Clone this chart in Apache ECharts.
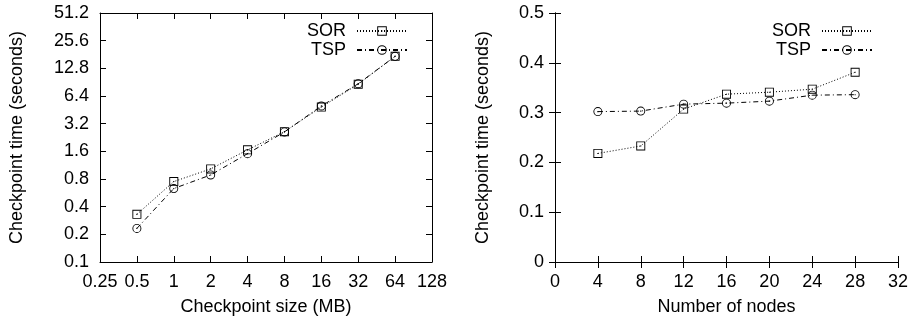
<!DOCTYPE html>
<html><head><meta charset="utf-8">
<script src="https://cdn.jsdelivr.net/npm/echarts@6/dist/echarts.min.js"></script>
<style>html,body{margin:0;padding:0;background:#fff}#c{width:916px;height:321px}</style>
</head><body><div id="c"></div>
<script>
// Left chart: checkpoint size vs time (log2 axes)
const sizeMB = [0.5, 1, 2, 4, 8, 16, 32, 64];
const sorBySize = [0.33, 0.75, 1.03, 1.66, 2.62, 4.85, 8.6, 17.3];
const tspBySize = [0.232, 0.63, 0.885, 1.51, 2.6, 4.98, 8.7, 17.3];
const sizeTicks = ['0.25', '0.5', '1', '2', '4', '8', '16', '32', '64', '128'];
const timeTicksLog = ['0.1', '0.2', '0.4', '0.8', '1.6', '3.2', '6.4', '12.8', '25.6', '51.2'];
// Right chart: number of nodes vs time
const nodes = [4, 8, 12, 16, 20, 24, 28];
const sorByNodes = [0.218, 0.233, 0.307, 0.337, 0.341, 0.347, 0.381];
const tspByNodes = [0.302, 0.303, 0.317, 0.319, 0.323, 0.335, 0.336];
const nodeTicks = ['0', '4', '8', '12', '16', '20', '24', '28', '32'];
const timeTicksLin = ['0', '0.1', '0.2', '0.3', '0.4', '0.5'];

const FONT = 'Liberation Sans';
const FS = 18;
const SQ = 'path://M0,0H10V10H0Z M1,1V9H9V1Z M4.4,4.4H5.6V5.6H4.4Z';
const CI = 'path://M5,0A5,5,0,1,1,5,10A5,5,0,1,1,5,0Z M5,1A4,4,0,1,0,5,9A4,4,0,1,0,5,1Z M4.4,4.4H5.6V5.6H4.4Z';

const lineAx = {show: true, lineStyle: {color: '#000', width: 1}};
const tickAx = {show: true, inside: true, length: 6, lineStyle: {color: '#000', width: 1}};
const lbl = (arr) => ({show: true, color: '#000', fontFamily: FONT, fontSize: FS, margin: 11,
  formatter: (v, i) => arr[i] !== undefined ? arr[i] : ''});
const nameStyle = {color: '#000', fontFamily: FONT, fontSize: FS};

function axes(kind, grid, dir, ticks, name, gap) {
  const main = Object.assign({gridIndex: grid, position: dir === 'x' ? 'bottom' : 'left',
    axisLine: lineAx, axisTick: tickAx, splitLine: {show: false}, axisLabel: lbl(ticks),
    name: name, nameLocation: 'middle', nameGap: gap, nameTextStyle: nameStyle}, kind);
  const mirror = Object.assign({gridIndex: grid, position: dir === 'x' ? 'top' : 'right',
    axisLine: lineAx, axisTick: tickAx, splitLine: {show: false}, axisLabel: {show: false}}, kind);
  return [main, mirror];
}

const logX = {type: 'log', logBase: 2, min: 0.25, max: 128, interval: 1};
const logY = {type: 'log', logBase: 2, min: 0.1, max: 51.2, interval: 1};
const linX = {type: 'value', min: 0, max: 32, interval: 4};
const linY = {type: 'value', min: 0, max: 0.5, interval: 0.1};

const xAxis = [
  ...axes(logX, 0, 'x', sizeTicks, 'Checkpoint size (MB)', 36),
  ...axes(linX, 1, 'x', nodeTicks, 'Number of nodes', 36)
];
const yAxis = [
  ...axes(logY, 0, 'y', timeTicksLog, 'Checkpoint time (seconds)', 74),
  ...axes(linY, 1, 'y', timeTicksLin, 'Checkpoint time (seconds)', 63)
];

function ser(name, xs, ys, xi, yi, sym, dash) {
  return {type: 'line', name: name, xAxisIndex: xi, yAxisIndex: yi,
    data: xs.map((x, i) => [x, ys[i]]), symbol: sym, symbolSize: 9, showSymbol: true,
    itemStyle: {color: '#000', borderWidth: 0},
    lineStyle: {color: '#000', width: 1, type: dash}, emphasis: {disabled: true}};
}
const DOT = [1, 2];
const DASHDOT = [5, 3, 1, 3];

const legendBase = {orient: 'vertical', align: 'right', itemWidth: 50, itemHeight: 12, itemGap: 1,
  textStyle: {color: '#000', fontFamily: FONT, fontSize: FS, padding: [0, 6, 0, 0]},
  data: ['SOR', 'TSP'], selectedMode: false, padding: 0};

const chart = echarts.init(document.getElementById('c'), null, {renderer: 'canvas'});
chart.setOption({
  animation: false,
  backgroundColor: '#fff',
  grid: [
    {left: 100, top: 13, width: 332, height: 250},
    {left: 555, top: 13, width: 343, height: 250}
  ],
  xAxis: xAxis,
  yAxis: yAxis,
  legend: [
    Object.assign({}, legendBase, {right: 508, top: 22}),
    Object.assign({}, legendBase, {right: 43, top: 22})
  ],
  series: [
    ser('SOR', sizeMB, sorBySize, 0, 0, SQ, DOT),
    ser('TSP', sizeMB, tspBySize, 0, 0, CI, DASHDOT),
    ser('SOR', nodes, sorByNodes, 2, 2, SQ, DOT),
    ser('TSP', nodes, tspByNodes, 2, 2, CI, DASHDOT)
  ]
});
</script></body></html>
